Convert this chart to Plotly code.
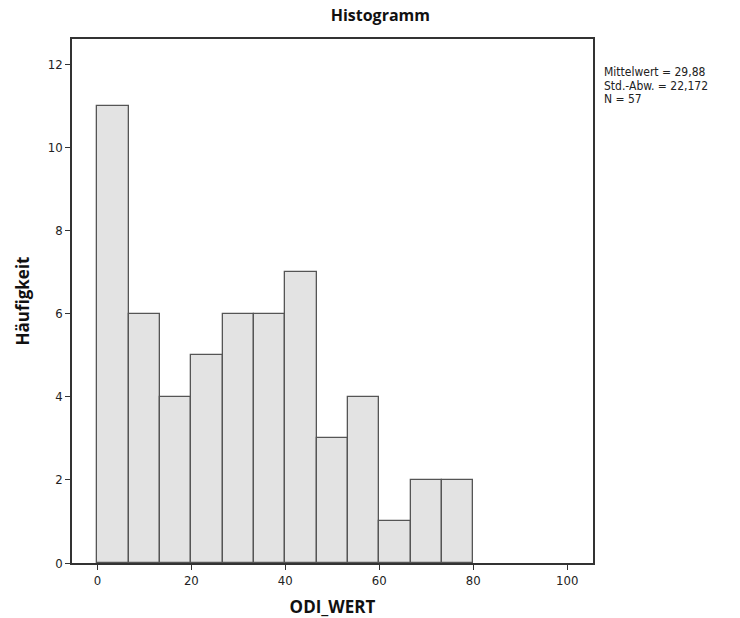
import plotly.graph_objects as go

bin_starts = [0 + i * 80 / 12 for i in range(12)]
bin_width = 80 / 12
counts = [11, 6, 4, 5, 6, 6, 7, 3, 4, 1, 2, 2]
x_ticks = [0, 20, 40, 60, 80, 100]
y_ticks = [0, 2, 4, 6, 8, 10, 12]
stats_lines = ["Mittelwert = 29,88", "Std.-Abw. = 22,172", "N = 57"]

FONT = "DejaVu Sans Condensed, Open Sans, sans-serif"
TFONT = "Open Sans, sans-serif"

fig = go.Figure()
fig.add_trace(go.Bar(
    x=[s + bin_width / 2 for s in bin_starts],
    y=counts,
    width=bin_width,
    marker=dict(color="#e3e3e3", line=dict(color="#555555", width=1.3)),
    showlegend=False,
))

fig.update_layout(
    width=740, height=618,
    margin=dict(l=72, r=147, t=39, b=55),
    paper_bgcolor="white", plot_bgcolor="white",
    font=dict(family=FONT, size=13, color="#222222"),
    title=dict(text="<b>Histogramm</b>", x=0.514, xanchor="center", y=0.975, yanchor="middle",
               font=dict(family=TFONT, size=16, color="#111111")),
    xaxis=dict(range=[-5.4, 105.5], tickvals=x_ticks, ticks="outside", ticklen=5,
               tickcolor="#333333", showgrid=False, zeroline=False, automargin=False,
               showline=True, linecolor="#333333", linewidth=1.5, mirror=True,
               title=dict(text="<b>ODI_WERT</b>", font=dict(family=TFONT, size=17, color="#111111"), standoff=14),
               tickfont=dict(size=13)),
    yaxis=dict(range=[0, 12.61], tickvals=y_ticks, ticks="outside", ticklen=5,
               tickcolor="#333333", showgrid=False, zeroline=False, automargin=False,
               showline=True, linecolor="#333333", linewidth=1.5, mirror=True,
               title=dict(text="<b>Häufigkeit</b>", font=dict(family=TFONT, size=17, color="#111111"), standoff=14),
               tickfont=dict(size=13)),
    bargap=0,
)
for i, line in enumerate(stats_lines):
    fig.add_annotation(text=line, xref="paper", yref="paper", x=1.02, y=0.937 - i * 0.0262,
                       xanchor="left", yanchor="middle", align="left", showarrow=False,
                       borderpad=0,
                       font=dict(family=FONT, size=12, color="#222222"))

fig.write_html("out.html")
